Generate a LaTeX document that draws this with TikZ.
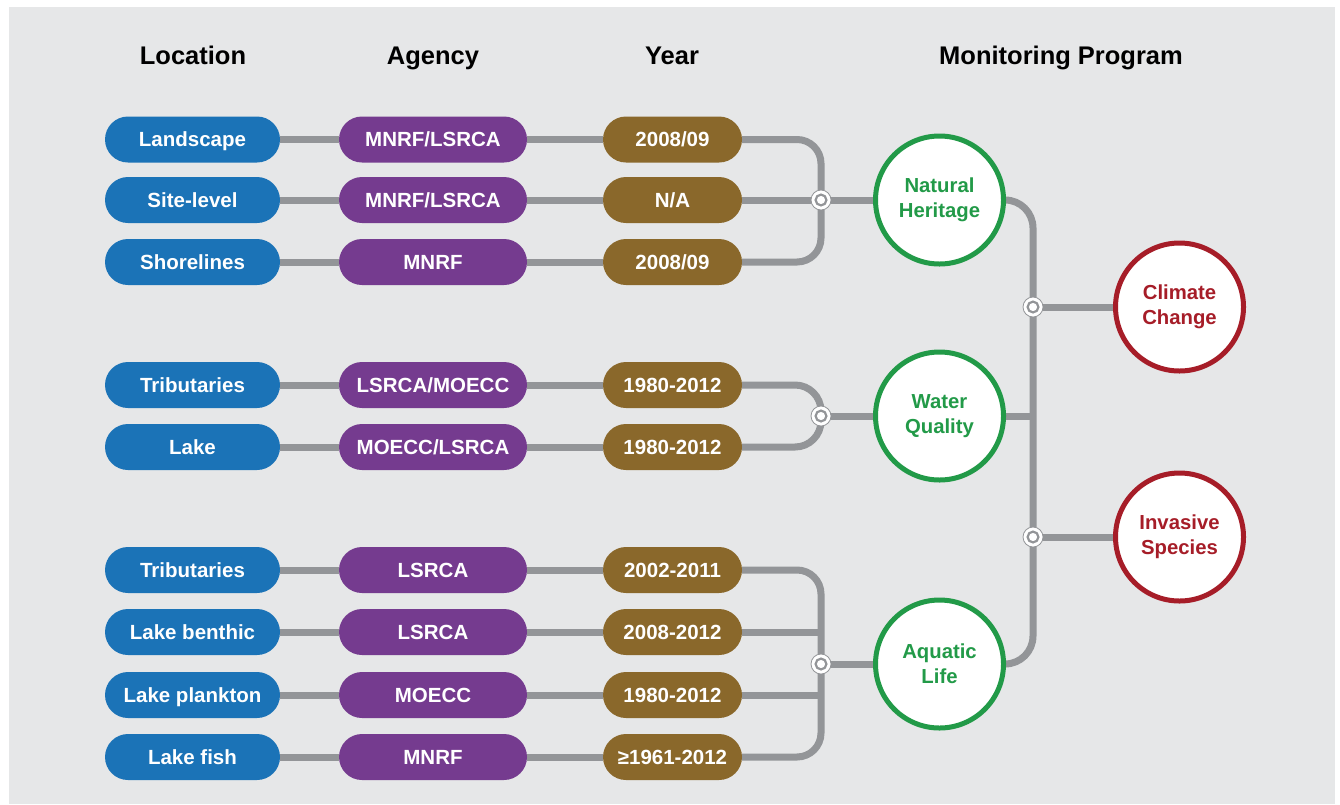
\documentclass[tikz,border=0pt]{standalone}
\usepackage{fontspec}
\setmainfont{Liberation Sans}
\usetikzlibrary{backgrounds}
\definecolor{bgc}{RGB}{230,231,232}
\definecolor{lblue}{RGB}{27,115,183}
\definecolor{apurple}{RGB}{117,59,143}
\definecolor{ybrown}{RGB}{138,104,43}
\definecolor{lgray}{RGB}{147,149,152}
\definecolor{pgreen}{RGB}{34,154,72}
\definecolor{pred}{RGB}{166,29,40}
\tikzset{
  pill/.style={rectangle, rounded corners=23pt, minimum height=46pt, inner sep=0pt,
    text height=14.7pt, text depth=0pt,
    text=white, font=\bfseries\fontsize{20.5}{24}\selectfont},
  locpill/.style={pill, fill=lblue, minimum width=175pt},
  agpill/.style={pill, fill=apurple, minimum width=188pt},
  yrpill/.style={pill, fill=ybrown, minimum width=139pt},
  header/.style={font=\bfseries\fontsize{25.5}{30}\selectfont, text=black,
    text height=18.3pt, text depth=0pt, inner sep=0pt},
  prog/.style={circle, draw=pgreen, line width=5pt, fill=white, minimum size=128pt, inner sep=0pt,
    align=center, text=pgreen, font=\bfseries\fontsize{20.3}{25}\selectfont},
  theme/.style={prog, draw=pred, text=pred},
  junc/.style={circle, fill=white, draw=lgray, line width=0.8pt, minimum size=20pt, inner sep=0pt,
    path picture={\draw[lgray, line width=2.2pt] (path picture bounding box.center) circle (5.4pt);}},
  conn/.style={draw=lgray, line width=7pt},
}
\begin{document}
\begin{tikzpicture}[x=1pt,y=-1pt]
\useasboundingbox (0,0) rectangle (1340,804);
% headers
\node[header] (hloc) at (193,55) {Location};
\node[header] (hag) at (433,55) {Agency};
\node[header] (hyr) at (672,55) {Year};
\node[header] (hmp) at (1061,55) {Monitoring Program};
% rows
\foreach \i/\y/\l/\a/\r in {1/139.5/Landscape/MNRF\slash LSRCA/2008\slash 09,
  2/200/Site-level/MNRF\slash LSRCA/N\slash A,
  3/262/Shorelines/MNRF/2008\slash 09,
  4/385/Tributaries/LSRCA\slash MOECC/1980-2012,
  5/447/Lake/MOECC\slash LSRCA/1980-2012,
  6/570/Tributaries/LSRCA/2002-2011,
  7/632/Lake benthic/LSRCA/2008-2012,
  8/695/Lake plankton/MOECC/1980-2012,
  9/757/Lake fish/MNRF/≥1961-2012}{
  \node[locpill] (loc\i) at (192.5,\y) {\l};
  \node[agpill] (ag\i) at (433,\y) {\a};
  \node[yrpill] (yr\i) at (672.5,\y) {\r};
}
% program circles
\node[prog] (nh) at (939.5,200) {Natural\\Heritage};
\node[prog] (wq) at (939.5,416) {Water\\Quality};
\node[prog] (al) at (939.5,664) {Aquatic\\Life};
\node[theme] (cc) at (1179.5,307) {Climate\\Change};
\node[theme] (is) at (1179.5,537) {Invasive\\Species};
% junctions
\node[junc] (j1) at (821,200) {};
\node[junc] (j2) at (821,416) {};
\node[junc] (j3) at (821,664) {};
\node[junc] (j4) at (1033,307) {};
\node[junc] (j5) at (1033,537) {};
\begin{scope}[on background layer]
\fill[bgc] (9,7) rectangle (1335,804);
\foreach \i in {1,...,9}{
  \draw[conn] (loc\i.east) -- (ag\i.west);
  \draw[conn] (ag\i.east) -- (yr\i.west);
}
% group 1
\draw[conn, rounded corners=24pt] (yr1.east) -| (j1.center) |- (yr3.east);
\draw[conn] (yr2.east) -- (j1.center);
\draw[conn] (j1.center) -- (nh.west);
% group 2
\draw[conn, rounded corners=26pt] (yr4.east) -| (j2.center);
\draw[conn, rounded corners=26pt] (yr5.east) -| (j2.center);
\draw[conn] (j2.center) -- (wq.west);
% group 3
\draw[conn, rounded corners=24pt] (yr6.east) -| (j3.center) |- (yr9.east);
\draw[conn] (yr7.east) -- (yr7.east -| j3.center);
\draw[conn] (yr8.east) -- (yr8.east -| j3.center);
\draw[conn] (j3.center) -- (al.west);
% right side
\draw[conn, rounded corners=28pt] (nh.east) -| (j4.center) -- (j5.center) |- (al.east);
\draw[conn] (wq.east) -- (wq.east -| j4.center);
\draw[conn] (j4.center) -- (cc.west);
\draw[conn] (j5.center) -- (is.west);
\end{scope}
\end{tikzpicture}
\end{document}
